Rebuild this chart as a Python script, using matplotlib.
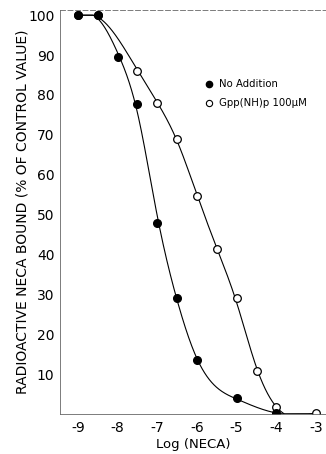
import matplotlib
matplotlib.use("Agg")
import matplotlib.pyplot as plt
import numpy as np

# values
log_neca_ctrl = [-9, -8.5, -8, -7.5, -7, -6.5, -6, -5, -4, -3]
bound_ctrl = [100, 100, 89.5, 77.7, 48, 29, 13.5, 4, 0.2, 0.2]

log_neca_gpp = [-9, -8.5, -7.5, -7, -6.5, -6, -5.5, -5, -4.5, -4, -3]
bound_gpp = [100, 100, 86, 78, 69, 54.6, 41.3, 29, 10.8, 1.7, 0.3]

yticks = [10, 20, 30, 40, 50, 60, 70, 80, 90, 100]
xticks = [-9, -8, -7, -6, -5, -4, -3]


def smooth_curve(x, y, lam=6e-3, n=601):
    # penalised (smoothing) spline on a fine grid, only for the drawn line
    x = np.asarray(x, float)
    y = np.asarray(y, float)
    g = np.linspace(x[0], x[-1], n)
    h = g[1] - g[0]
    B = np.zeros((len(x), n))
    for i, t in enumerate(x):
        k = min(int((t - g[0]) / h), n - 2)
        w = (t - g[k]) / h
        B[i, k] = 1 - w
        B[i, k + 1] = w
    D = np.diff(np.eye(n), 2, axis=0) / h**2
    A = B.T @ B + lam * h * D.T @ D
    f = np.linalg.solve(A, B.T @ y)
    return g, np.clip(f, 0, 100)


fig = plt.figure(figsize=(3.26, 4.54), dpi=100)
ax = fig.add_axes([60 / 326, 40 / 454, 266 / 326, 404 / 454])

gx, gy = smooth_curve(log_neca_ctrl, bound_ctrl)
ax.plot(gx, gy, color="black", lw=0.8)
gx, gy = smooth_curve(log_neca_gpp, bound_gpp)
ax.plot(gx, gy, color="black", lw=0.8)

ax.plot(log_neca_gpp, bound_gpp, "o", ms=5.5, mfc="white", mec="black", mew=0.9)
ax.plot(log_neca_ctrl[:-1], bound_ctrl[:-1], "o", ms=5.5, mfc="black", mec="black")

ax.set_xlim(-9.45, -2.75)
ax.set_ylim(0, 101.3)
ax.set_xticks(xticks)
ax.set_xticklabels([str(v) for v in xticks], fontsize=10)
ax.set_yticks(yticks)
ax.set_yticklabels([str(v) for v in yticks], fontsize=10)
ax.tick_params(axis="y", length=0, pad=4)
ax.tick_params(axis="x", length=0, pad=5)

ax.spines["right"].set_visible(False)
ax.spines["top"].set_linestyle((0, (6, 3)))
for s in ["top", "left", "bottom"]:
    ax.spines[s].set_linewidth(0.6)
    ax.spines[s].set_color("#666666")

ax.set_xlabel("Log (NECA)", fontsize=9.5, labelpad=2)
ax.set_ylabel("RADIOACTIVE NECA BOUND (% OF CONTROL VALUE)", fontsize=10, labelpad=-1)

ax.plot([-5.7], [82.7], "o", ms=4.5, mfc="black", mec="black")
ax.text(-5.45, 82.7, "No Addition", fontsize=7.3, va="center")
ax.plot([-5.7], [78.0], "o", ms=4.5, mfc="white", mec="black", mew=0.8)
ax.text(-5.45, 78.0, "Gpp(NH)p 100\u00b5M", fontsize=7.3, va="center")

fig.savefig("out.png", dpi=100)
